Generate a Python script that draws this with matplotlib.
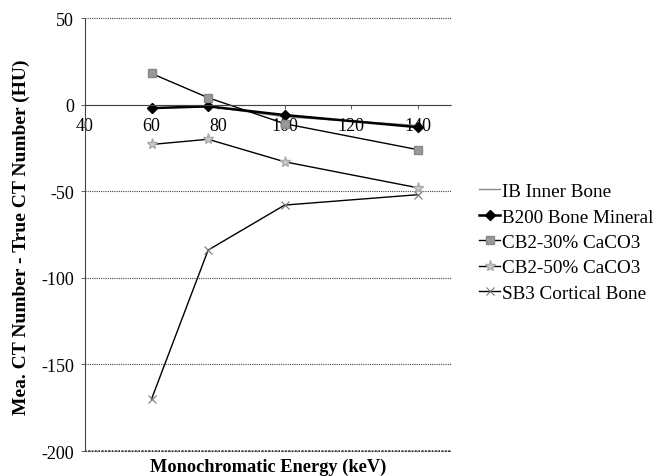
import numpy as np
import matplotlib.pyplot as plt

plt.rcParams['font.family'] = ['Liberation Serif', 'DejaVu Serif']
plt.rcParams['axes.unicode_minus'] = False

energy = [60, 77, 100, 140]
ib_inner = [-2, -1, -7, -12]
b200 = [-2, -1, -6, -13]
cb2_30 = [18, 4, -11, -26]
cb2_50 = [-23, -20, -33, -48]
sb3 = [-170, -84, -58, -52]

fig = plt.figure(figsize=(6.61, 4.77), dpi=100)
ax = fig.add_axes([0.1286, 0.0415, 0.5537, 0.9204])

ax.plot(energy, ib_inner, color='#888888', lw=1.0, label='IB Inner Bone')
ax.plot(energy, b200, color='black', lw=1.8, marker='D', ms=5, label='B200 Bone Mineral')
ax.plot(energy, cb2_30, color='black', lw=1.0, marker='s', ms=6, mfc='#999999', mec='#888888',
        label='CB2-30% CaCO3')
ax.plot(energy, cb2_50, color='black', lw=1.0, marker='*', ms=8, mfc='#cccccc', mec='#aaaaaa',
        label='CB2-50% CaCO3')
ax.plot(energy, sb3, color='black', lw=1.0, marker='x', ms=6, mec='#777777', mew=0.8,
        label='SB3 Cortical Bone')

ax.set_xlim(40, 150)
ax.set_ylim(-203, 50.5)
ax.set_xticks([40, 60, 80, 100, 120, 140])
ax.set_yticks([50, 0, -50, -100, -150, -200])

for s in ['top', 'right']:
    ax.spines[s].set_visible(False)
ax.spines['bottom'].set_position(('data', 0))
ax.spines['left'].set_bounds(-200, 50)
for s in ['bottom', 'left']:
    ax.spines[s].set_linestyle((0, (1, 1)))
    ax.spines[s].set_color('#444444')
    ax.spines[s].set_linewidth(0.8)

ax.yaxis.grid(True, linestyle=(0, (1, 1)), color='#444444', lw=0.8)
# bottom gridline drawn explicitly
ax.plot([40, 150], [-200, -200], linestyle=(0, (1, 1)), color='#333333', lw=1.2, zorder=1)
ax.set_axisbelow(True)
ax.tick_params(axis='both', labelsize=13, length=3, width=0.6, color='#444444')
ax.tick_params(axis='x', pad=6)
ax.tick_params(axis='y', pad=5)

ax.set_xlabel('Monochromatic Energy (keV)', fontsize=13.2, fontweight='bold')
ax.xaxis.set_label_coords(0.5, -0.004)
ax.set_ylabel('Mea. CT Number - True CT Number (HU)', fontsize=14, fontweight='bold')
ax.yaxis.set_label_coords(-0.15, 0.5)

fig.legend(loc='center left', bbox_to_anchor=(0.713, 0.49), frameon=False, fontsize=13.8,
           handlelength=1.1, handletextpad=0.1, labelspacing=0.42, borderaxespad=0)

fig.savefig('out.png', dpi=100)
